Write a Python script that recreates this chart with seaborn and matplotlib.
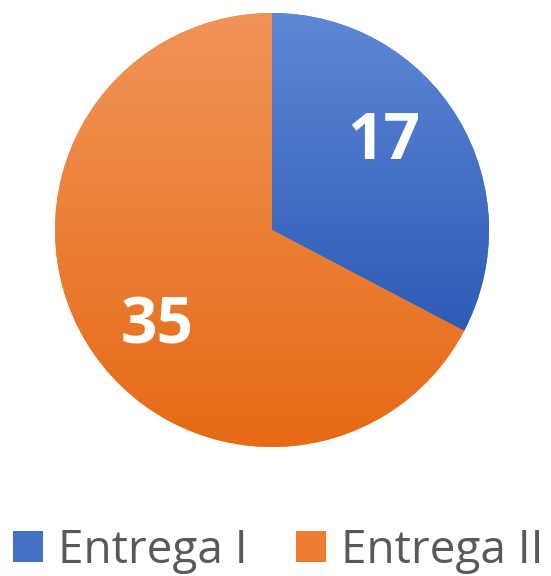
import numpy as np
import matplotlib
matplotlib.use("Agg")
import matplotlib.pyplot as plt
import seaborn as sns
from matplotlib.colors import LinearSegmentedColormap
from matplotlib.patches import Patch

# data
categories = ["Entrega I", "Entrega II"]
values = [17, 35]

# gradient colours (top, bottom) per slice
grad_top = ["#5E87D5", "#F19458"]
grad_bottom = ["#2D5BB6", "#E66A15"]
legend_colors = ["#4470C6", "#EE7D32"]

sns.set_theme(style="white")
plt.rcParams["font.family"] = ["Open Sans", "DejaVu Sans"]

fig = plt.figure(figsize=(5.51, 5.76), dpi=100)
ax = fig.add_axes([55 / 551, 129 / 576, 434 / 551, 434 / 576])

wedges, _ = ax.pie(values, startangle=90, counterclock=False,
                   colors=legend_colors, radius=1,
                   wedgeprops=dict(linewidth=0))
ax.set_xlim(-1, 1)
ax.set_ylim(-1, 1)

# vertical gradient fill clipped to each wedge
for w, top, bot in zip(wedges, grad_top, grad_bottom):
    ext = w.get_path().get_extents()
    cmap = LinearSegmentedColormap.from_list("g", [bot, top])
    grad = np.linspace(0, 1, 256).reshape(-1, 1)
    im = ax.imshow(grad, cmap=cmap, origin="lower", aspect="auto",
                   extent=[ext.x0, ext.x1, ext.y0, ext.y1], zorder=w.get_zorder() + 0.1)
    im.set_clip_path(w)
ax.set_xlim(-1, 1)
ax.set_ylim(-1, 1)
ax.set_aspect("equal")
ax.axis("off")

# value labels
label_pos = [(0.516, 0.401), (-0.530, -0.447)]
for (x, y), v in zip(label_pos, values):
    ax.text(x, y, str(v), ha="center", va="center", color="white",
            fontsize=46, fontweight="bold", zorder=5)

handles = [Patch(facecolor=c, edgecolor="none") for c in legend_colors]
fig.legend(handles, categories, loc="center", bbox_to_anchor=(278 / 551, 1 - 551 / 576),
           ncol=2, frameon=False, fontsize=33, labelcolor="#595959",
           handlelength=0.66, handleheight=0.66, handletextpad=0.33,
           columnspacing=1.05, borderpad=0)

fig.savefig("out.png", dpi=100)
